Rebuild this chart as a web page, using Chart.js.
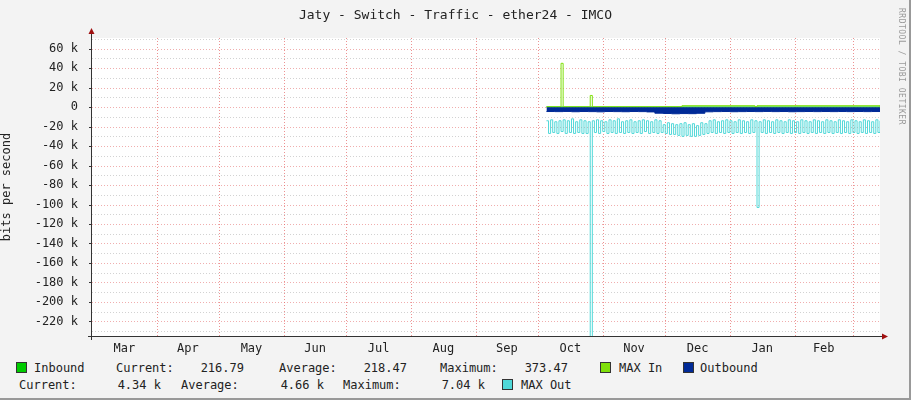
<!DOCTYPE html>
<html><head><meta charset="utf-8">
<script src="https://cdn.jsdelivr.net/npm/chart.js@4"></script>
<style>
body{margin:0;background:#f3f3f3;width:911px;height:400px;overflow:hidden;font-family:"DejaVu Sans Mono",monospace;font-size:12px;color:#222;position:relative}
#wrap{position:absolute;left:0;top:0;width:911px;height:360px}
.t{position:absolute;white-space:pre;line-height:14px}
.r{text-align:right}
.sq{position:absolute;width:9px;height:9px;border:1px solid #333}
#title{position:absolute;top:7px;left:0;width:911px;text-align:center;font-size:13px}
#side{position:absolute;left:897px;top:8px;writing-mode:vertical-rl;font-size:8px;color:#999;letter-spacing:0.5px}
#frame{position:absolute;left:0;top:0;width:909px;height:398px;border-right:2px solid #999;border-bottom:2px solid #999}
</style></head><body>
<div id="frame"></div>
<div id="wrap"><canvas id="c" width="911" height="360"></canvas></div>
<div id="title">Jaty - Switch - Traffic - ether24 - IMCO</div>
<div id="side">RRDTOOL / TOBI OETIKER</div>
<div class="sq" style="left:16px;top:362px;background:#00cc00"></div><div class="t" style="left:34px;top:361px">Inbound</div>
<div class="t" style="left:116px;top:361px">Current:</div><div class="t r" style="left:184px;width:60px;top:361px">216.79</div>
<div class="t" style="left:279px;top:361px">Average:</div><div class="t r" style="left:347px;width:60px;top:361px">218.47</div>
<div class="t" style="left:440px;top:361px">Maximum:</div><div class="t r" style="left:508px;width:60px;top:361px">373.47</div>
<div class="sq" style="left:600px;top:362px;background:#7fe00a"></div><div class="t" style="left:619px;top:361px">MAX In</div>
<div class="sq" style="left:683px;top:362px;background:#002a97"></div><div class="t" style="left:700px;top:361px">Outbound</div>
<div class="t" style="left:19px;top:378px">Current:</div><div class="t r" style="left:101px;width:60px;top:378px">4.34 k</div>
<div class="t" style="left:181px;top:378px">Average:</div><div class="t r" style="left:264px;width:60px;top:378px">4.66 k</div>
<div class="t" style="left:343px;top:378px">Maximum:</div><div class="t r" style="left:425px;width:60px;top:378px">7.04 k</div>
<div class="sq" style="left:502px;top:379px;background:#50d8d8"></div><div class="t" style="left:521px;top:378px">MAX Out</div>
<script>
// x in days since Mar 1; y in k bits/s
const monthNames=["Mar","Apr","May","Jun","Jul","Aug","Sep","Oct","Nov","Dec","Jan","Feb"];
const monthStarts=[0,31,61,92,122,153,184,214,245,275,306,337,365];
const outStart=218;
const maxOut=[-14,-27,-13,-26,-15,-27,-14,-25,-13,-27,-14,-26,-12,-27,-15,-26,-13,-27,-14,-27,-15,-236,-14,-26,-13,-27,-14,-25,-15,-27,
-13,-26,-14,-27,-12,-26,-15,-27,-14,-26,-13,-27,-15,-26,-14,-27,-13,-25,-14,-27,-15,-26,-13,-27,-14,-26,-18,-27,-16,-28,
-17,-28,-18,-29,-17,-30,-16,-29,-18,-30,-17,-30,-19,-29,-16,-28,-17,-27,-14,-26,-13,-27,-15,-26,-14,-27,-13,-26,-14,-27,
-15,-26,-13,-27,-14,-26,-15,-27,-13,-26,-14,-103,-15,-26,-13,-27,-14,-26,-15,-27,-13,-26,-14,-27,-15,-26,-13,-27,-14,-26,
-15,-27,-13,-26,-14,-27,-15,-26,-13,-27,-14,-26,-15,-27,-13,-26,-14,-27,-15,-26,-13,-27,-14,-26,-15,-27,-13,-26,-14,-27,
-15,-26,-13,-27,-14,-26,-15,-27,-13,-26,-14,-27];
const outbound=[-4.5,-4.6,-4.4,-4.7,-4.5,-4.6,-4.8,-4.5,-4.6,-4.7,-4.5,-4.6,-4.9,-6.2,-6.5,-6.8,-6.6,-6.7,-6.3,-4.8,
-4.6,-4.5,-4.7,-4.6,-4.5,-4.6,-4.4,-4.6,-4.5,-4.7,-4.6,-4.5,-4.6,-4.5,-4.6,-4.5,-4.6,-4.5,-4.6,-4.5,-4.5];
const outStep=4;
const maxInDays=[218,224,225,226,238,239,240,282,283,318,319,378];
const maxInVals=[0.4,0.4,45,0.4,0.4,12,0.4,0.4,1.5,0.4,1.5,0.4];
const inbound=[0.2,0.2];
const inboundDays=[218,378];

const pts=(xs,ys)=>ys.map((y,i)=>({x:xs[i],y}));
const seq=(s,step,ys)=>ys.map((y,i)=>({x:s+i*step,y}));

const gridPlugin={id:'g',beforeDatasetsDraw(ch){
 const {ctx,chartArea:a,scales:{x,y}}=ch;
 ctx.save();ctx.fillStyle='#ffffff';ctx.fillRect(a.left,a.top,a.right-a.left,a.bottom-a.top);
 ctx.lineWidth=1;ctx.setLineDash([1,2]);
 for(let v=-230;v<=70;v+=10){const py=Math.round(y.getPixelForValue(v))+0.5;
  ctx.strokeStyle=(v%20===0)?'rgba(230,120,120,0.6)':'rgba(180,180,180,0.6)';
  ctx.beginPath();ctx.moveTo(a.left,py);ctx.lineTo(a.right,py);ctx.stroke();}
 monthStarts.forEach(d=>{const px=Math.round(x.getPixelForValue(d))+0.5;if(px<=a.left+1)return;
  ctx.strokeStyle='rgba(230,100,100,0.7)';ctx.beginPath();ctx.moveTo(px,a.top);ctx.lineTo(px,a.bottom);ctx.stroke();});
 ctx.restore();},
 afterDatasetsDraw(ch){const {ctx,chartArea:a,scales:{x,y}}=ch;ctx.save();
 ctx.strokeStyle='#333';ctx.lineWidth=1;ctx.beginPath();
 ctx.moveTo(a.left-0.5,a.top-8);ctx.lineTo(a.left-0.5,a.bottom+4);
 ctx.moveTo(a.left-4,a.bottom+0.5);ctx.lineTo(a.right+4,a.bottom+0.5);ctx.stroke();
 for(let v=-230;v<=70;v+=10){const py=Math.round(y.getPixelForValue(v))+0.5;ctx.beginPath();ctx.moveTo(a.left-(v%20===0?3:1),py);ctx.lineTo(a.left,py);ctx.stroke();}
 ctx.fillStyle='#a01010';ctx.beginPath();ctx.moveTo(a.left-3.5,a.top-4);ctx.lineTo(a.left+2.5,a.top-4);ctx.lineTo(a.left-0.5,a.top-10);ctx.fill();
 ctx.beginPath();ctx.moveTo(a.right+2,a.bottom-2.5);ctx.lineTo(a.right+2,a.bottom+3.5);ctx.lineTo(a.right+8,a.bottom+0.5);ctx.fill();
 ctx.fillStyle='#222';ctx.font='12px "DejaVu Sans Mono"';ctx.textAlign='center';
 monthNames.forEach((m,i)=>{ctx.fillText(m,x.getPixelForValue((monthStarts[i]+monthStarts[i+1])/2),a.bottom+16);});
 ctx.restore();}};

new Chart(document.getElementById('c'),{type:'line',
 data:{datasets:[
  {data:pts(inboundDays,inbound),stepped:true,fill:'origin',backgroundColor:'#00cc00',borderColor:'#00cc00',borderWidth:1,pointRadius:0,order:4},
  {data:pts(maxInDays,maxInVals),stepped:true,fill:false,borderColor:'#7fe00a',borderWidth:1,pointRadius:0,order:3},
  {data:seq(outStart,outStep,outbound),stepped:true,fill:'origin',backgroundColor:'#002a97',borderColor:'#002a97',borderWidth:1,pointRadius:0,order:2},
  {data:seq(outStart,1,maxOut),stepped:true,fill:false,borderColor:'#50d8d8',borderWidth:1,pointRadius:0,order:1}
 ]},
 options:{animation:false,responsive:false,events:[],
  layout:{padding:{top:38,right:31,left:0,bottom:0}},
  plugins:{legend:{display:false},tooltip:{enabled:false}},
  scales:{
   x:{type:'linear',min:0,max:378,grid:{display:false},border:{display:false},ticks:{display:false},afterFit(s){s.height=24;}},
   y:{min:-235,max:71,grid:{display:false},border:{display:false},
    afterBuildTicks(s){const t=[];for(let v=-220;v<=60;v+=20)t.push({value:v});s.ticks=t;},
    ticks:{font:{family:'DejaVu Sans Mono',size:12},color:'#222',padding:6,callback:v=>v===0?'0':v+' k'},
    title:{display:true,text:'bits per second',font:{family:'DejaVu Sans Mono',size:12},color:'#222',padding:0},
    afterFit(s){s.width=92;}}
  }},
 plugins:[gridPlugin]});
</script></body></html>
